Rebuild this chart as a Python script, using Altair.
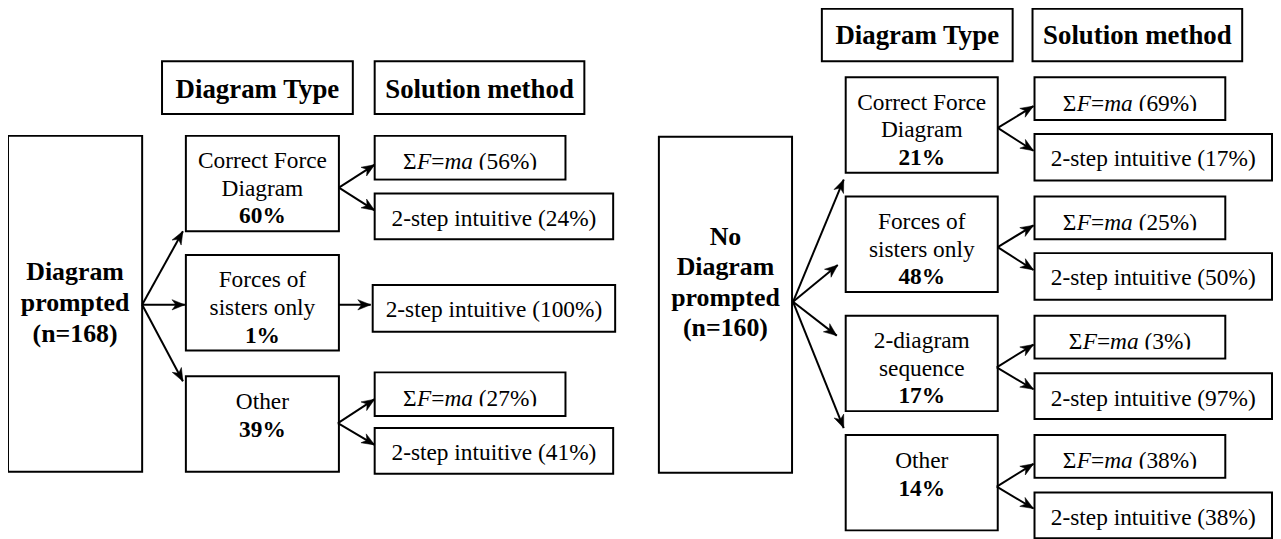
import math
import altair as alt
import pandas as pd

# ---------------- content ----------------
header_labels = ["Diagram Type", "Solution method"]

left_root_lines = ["Diagram", "prompted", "(n=168)"]
left_type_lines = [["Correct Force", "Diagram"], ["Forces of", "sisters only"], ["Other"]]
left_type_pcts = ["60%", "1%", "39%"]
left_sfma_pcts = ["56%", None, "27%"]
left_intuitive_pcts = ["24%", "100%", "41%"]

right_root_lines = ["No", "Diagram", "prompted", "(n=160)"]
right_type_lines = [["Correct Force", "Diagram"], ["Forces of", "sisters only"],
                    ["2-diagram", "sequence"], ["Other"]]
right_type_pcts = ["21%", "48%", "17%", "14%"]
right_sfma_pcts = ["69%", "25%", "3%", "38%"]
right_intuitive_pcts = ["17%", "50%", "97%", "38%"]

# ---------------- layout (pixel positions of the diagram) ----------------
LEFT = dict(
    root=(8, 143, 135, 473), root_base=[280, 311, 342],
    headers=[(163, 355, 60, 113), (377, 588, 60, 113)], header_base=97,
    types=[(187, 341, 135, 231), (187, 341, 255, 351), (187, 341, 377, 473)],
    sfma=[(377, 569, 135, 179), None, (377, 569, 373, 417)],
    intu=[(377, 617, 193, 239), (375, 619, 285, 332), (377, 617, 429, 475)],
    arrows=[((143, 305), (184, 231)), ((143, 305), (186, 305)), ((143, 305), (184, 382)),
            ((341, 187), (377, 164)), ((341, 187), (377, 210)),
            ((341, 305), (373, 305)),
            ((340, 424), (377, 400)), ((340, 424), (377, 446))],
)
RIGHT = dict(
    root=(663, 797, 136, 474), root_base=[245, 275.5, 306, 336.5],
    headers=[(827, 1019, 7, 60), (1039, 1250, 7, 60)], header_base=43,
    types=[(851, 1004, 76, 172), (851, 1004, 196, 292), (851, 1004, 316, 412), (851, 1004, 436, 532)],
    sfma=[(1041, 1233, 76, 119), (1041, 1233, 196, 239), (1041, 1233, 316, 359), (1041, 1233, 436, 479)],
    intu=[(1041, 1280, 133, 180), (1041, 1280, 253, 300), (1041, 1280, 374, 420), (1041, 1280, 494, 540)],
    arrows=[((798, 302), (849, 179)), ((798, 302), (843, 265)), ((798, 302), (842, 336)), ((798, 302), (849, 429)),
            ((1004, 127), (1040, 105)), ((1004, 127), (1040, 150)),
            ((1004, 247), (1040, 225)), ((1004, 247), (1040, 270)),
            ((1003, 368), (1040, 345)), ((1003, 368), (1040, 390)),
            ((1003, 488), (1040, 465)), ((1003, 488), (1040, 510))],
)

FONT = "Liberation Serif"
FS = 23.5
FS_ROOT = 26
FS_HEAD = 27

# Times / Liberation Serif advance widths (em) used to lay out the mixed-style formula
REG_W = {" ": .25, "(": .333, ")": .333, "%": .833, "=": .564, "\u03a3": .6}
REG_W.update({d: .5 for d in "0123456789"})
ITAL_W = {"F": .611, "m": .722, "a": .5}

boxes, masks, texts, rules, heads = [], [], [], [], []


def add_box(b):
    boxes.append(dict(x=b[0], x2=b[1], y=b[2], y2=b[3]))


def add_text(x, y, t, kind):
    texts.append(dict(x=x, y=y, t=t, kind=kind))


def add_arrow(p, q):
    rules.append(dict(x=p[0], y=p[1], x2=q[0], y2=q[1]))
    ang = math.degrees(math.atan2(q[0] - p[0], -(q[1] - p[1]))) % 360
    heads.append(dict(x=q[0], y=q[1], ang=ang))


def add_formula(b, pct):
    # (text, style, extra gap before it in em)
    segs = [("\u03a3", "regl", 0), ("F", "ital", 0), ("=", "regl", 0), ("ma", "ital", 0),
            (f"({pct})", "regl", REG_W[" "])]
    widths = []
    for s, k, gap in segs:
        table = ITAL_W if k == "ital" else REG_W
        widths.append((gap + sum(table.get(c, .5) for c in s)) * FS)
    cx = (b[0] + b[1]) / 2
    x = cx - sum(widths) / 2
    base = b[2] + 33.5
    for (s, k, gap), w in zip(segs, widths):
        add_text(x + gap * FS, base, s, k)
        x += w
    masks.append(dict(x=b[0] + 1.5, x2=b[1] - 1.5, y=b[2] + 34, y2=b[3] - 1.3))


def build(P, root_lines, type_lines, type_pcts, sfma_pcts, intu_pcts):
    add_box(P["root"])
    rcx = (P["root"][0] + P["root"][1]) / 2
    for line, yb in zip(root_lines, P["root_base"]):
        add_text(rcx, yb, line, "root")
    for hb, lab in zip(P["headers"], header_labels):
        add_box(hb)
        add_text((hb[0] + hb[1]) / 2, P["header_base"], lab, "head")
    for i, tb in enumerate(P["types"]):
        add_box(tb)
        cx = (tb[0] + tb[1]) / 2
        lines = type_lines[i]
        offs = [32.5, 60.5, 88] if len(lines) == 2 else [33, 61]
        for line, o in zip(lines, offs):
            add_text(cx, tb[2] + o, line, "reg")
        add_text(cx, tb[2] + offs[len(lines)], type_pcts[i], "bold")
        sb = P["sfma"][i]
        if sb is not None and sfma_pcts[i] is not None:
            add_box(sb)
            add_formula(sb, sfma_pcts[i])
        ib = P["intu"][i]
        add_box(ib)
        add_text((ib[0] + ib[1]) / 2, ib[2] + 32.5, f"2-step intuitive ({intu_pcts[i]})", "reg")
    for p, q in P["arrows"]:
        add_arrow(p, q)


build(LEFT, left_root_lines, left_type_lines, left_type_pcts, left_sfma_pcts, left_intuitive_pcts)
build(RIGHT, right_root_lines, right_type_lines, right_type_pcts, right_sfma_pcts, right_intuitive_pcts)

df_boxes = pd.DataFrame(boxes)
df_masks = pd.DataFrame(masks)
df_text = pd.DataFrame(texts)
df_rules = pd.DataFrame(rules)
df_heads = pd.DataFrame(heads)

W, H = 1273, 531
xs = alt.Scale(domain=[8, 8 + W], nice=False, zero=False)
ys = alt.Scale(domain=[8, 8 + H], nice=False, zero=False, reverse=True)
X = alt.X("x:Q", scale=xs, axis=None)
Y = alt.Y("y:Q", scale=ys, axis=None)

rect_layer = alt.Chart(df_boxes).mark_rect(fill="white", stroke="black", strokeWidth=2).encode(
    x=X, x2="x2:Q", y=Y, y2="y2:Q")
rule_layer = alt.Chart(df_rules).mark_rule(color="black", strokeWidth=2).encode(
    x=X, x2="x2:Q", y=Y, y2="y2:Q")
ARROW = "M0,0 L-0.6,1.5 L0,1.05 L0.6,1.5 Z"
head_layer = alt.Chart(df_heads).mark_point(shape=ARROW, filled=True, color="black", opacity=1,
                                            size=300, strokeWidth=0.5, stroke="black").encode(
    x=X, y=Y, angle=alt.Angle("ang:Q", scale=None))


def text_layer(kind, align, size, bold=False, italic=False):
    props = dict(font=FONT, fontSize=size, align=align, baseline="alphabetic", color="black")
    if bold:
        props["fontWeight"] = "bold"
    if italic:
        props["fontStyle"] = "italic"
    return alt.Chart(df_text).transform_filter(alt.datum.kind == kind).mark_text(**props).encode(
        x=X, y=Y, text="t:N")


mask_layer = alt.Chart(df_masks).mark_rect(fill="white", strokeWidth=0).encode(
    x=X, x2="x2:Q", y=Y, y2="y2:Q")

chart = alt.layer(
    rect_layer, rule_layer, head_layer,
    text_layer("reg", "center", FS),
    text_layer("regl", "left", FS),
    text_layer("ital", "left", FS, italic=True),
    text_layer("bold", "center", FS, bold=True),
    text_layer("root", "center", FS_ROOT, bold=True),
    text_layer("head", "center", FS_HEAD, bold=True),
    mask_layer,
).properties(width=W, height=H, padding=0, autosize="none", background="white").configure_view(stroke=None)

chart.save("out.html", embed_options={"renderer": "svg", "actions": False})
